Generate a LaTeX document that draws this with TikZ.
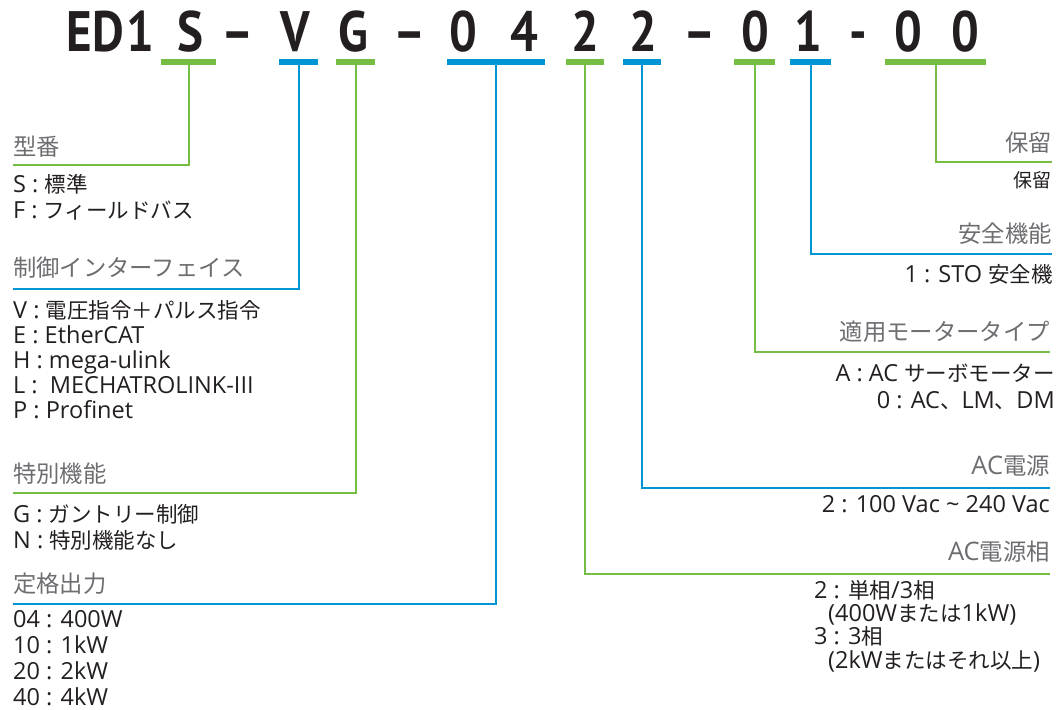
\documentclass[tikz,border=0pt]{standalone}
\usepackage{fontspec}
\setmainfont{Open Sans}
\newfontfamily\titlefont[FakeStretch=0.86]{PT Sans}
\newfontfamily\jpfont[Scale=0.915]{Noto Sans CJK JP}
\newcommand{\jp}[1]{{\jpfont #1}}
\definecolor{codegreen}{HTML}{76BE43}
\definecolor{codeblue}{HTML}{0096D6}
\definecolor{headgray}{HTML}{6D6E71}
\definecolor{inkblack}{HTML}{231F20}
\tikzset{
  codechar/.style={inner sep=0pt, anchor=base, text=inkblack, font=\fontsize{57}{57}\titlefont\bfseries},
  gbar/.style={fill=codegreen, minimum height=6pt, inner sep=0pt},
  bbar/.style={fill=codeblue, minimum height=6pt, inner sep=0pt},
  gline/.style={codegreen, line width=2pt},
  bline/.style={codeblue, line width=2pt},
  heading/.style={inner sep=0pt, text=headgray, font=\fontsize{25.5}{28}\selectfont},
  items/.style={inner sep=0pt, text=inkblack, align=left, font=\fontsize{23.5}{26}\selectfont},
}

\begin{document}
\begin{tikzpicture}[x=1pt, y=-1pt]
	\useasboundingbox (0,0) rectangle (1059,709);

	\node[codechar] (cE) at (79,52) {E};
	\node[codechar] (cD) at (108,52) {D};
	\node[codechar] (cOne) at (140,52) {1};
	\node[codechar] (cS) at (190,52) {S};
	\node[codechar] (dashA) at (238,52) {–};
	\node[codechar] (cV) at (295,52) {V};
	\node[codechar] (cG) at (353,52) {G};
	\node[codechar] (dashB) at (410,52) {–};
	\node[codechar] (cZeroA) at (463,52) {0};
	\node[codechar] (cFour) at (524,52) {4};
	\node[codechar] (cTwoA) at (585,52) {2};
	\node[codechar] (cTwoB) at (643,52) {2};
	\node[codechar] (dashC) at (700,52) {–};
	\node[codechar] (cZeroB) at (755,52) {0};
	\node[codechar] (cOneB) at (808,52) {1};
	\node[codechar] (dashD) at (858,52) {-};
	\node[codechar] (cZeroC) at (908,52) {0};
	\node[codechar] (cZeroD) at (965,52) {0};

	\node[gbar, minimum width=55pt] (barS) at (188.5,62) {};
	\node[bbar, minimum width=39pt] (barV) at (298.5,62) {};
	\node[gbar, minimum width=39pt] (barG) at (355.5,62) {};
	\node[bbar, minimum width=98pt] (barPow) at (496,62) {};
	\node[gbar, minimum width=38pt] (barPhase) at (585,62) {};
	\node[bbar, minimum width=38pt] (barAC) at (642,62) {};
	\node[gbar, minimum width=41pt] (barMotor) at (754.5,62) {};
	\node[bbar, minimum width=41pt] (barSafe) at (810.5,62) {};
	\node[gbar, minimum width=101pt] (barRes) at (935.5,62) {};

	% left side
	\node[heading, anchor=base west] (hdType) at (13,155) {\jp{型番}};
	\node[items, anchor=base west] (itType) at (13,218) {S : \jp{標準}\\F : \jp{フィールドバス}};
	\node[heading, anchor=base west] (hdIf) at (13,276) {\jp{制御インターフェイス}};
	\node[items, anchor=base west, font=\fontsize{23.5}{25}\selectfont] (itIf) at (13,418) {V : \jp{電圧指令＋パルス指令}\\E : EtherCAT\\H : mega-ulink\\L : \ MECHATROLINK-III\\P : Profinet};
	\node[heading, anchor=base west] (hdFunc) at (13,482) {\jp{特別機能}};
	\node[items, anchor=base west] (itFunc) at (13,548) {G : \jp{ガントリー制御}\\N : \jp{特別機能なし}};
	\node[heading, anchor=base west] (hdPow) at (13,592) {\jp{定格出力}};
	\node[items, anchor=base west] (itPow) at (13,705) {04 : 400W\\10 : 1kW\\20 : 2kW\\40 : 4kW};

	\coordinate (endType) at (13,165);
	\coordinate (endIf) at (13,289);
	\coordinate (endFunc) at (13,493);
	\coordinate (endPow) at (13,604);
	\draw[gline] (barS.south) |- (endType);
	\draw[bline] (barV.south) |- (endIf);
	\draw[gline] (barG.south) |- (endFunc);
	\draw[bline] (barPow.south) |- (endPow);

	% right side
	\node[heading, anchor=base east] (hdRes) at (1052,151) {\jp{保留}};
	\node[items, anchor=base east, font=\fontsize{20.8}{24}\selectfont] (itRes) at (1052,187) {\jp{保留}};
	\node[heading, anchor=base east] (hdSafe) at (1052,242) {\jp{安全機能}};
	\node[items, anchor=base east] (itSafe) at (1053,282) {1 : STO \jp{安全機}};
	\node[heading, anchor=base east] (hdMotor) at (1050,340) {\jp{適用モータータイプ}};
	\node[items, anchor=base east, align=right, font=\fontsize{23.5}{27}\selectfont] (itMotor) at (1055,408) {A : AC \jp{サーボモーター}\\0 : AC\jp{、}LM\jp{、}DM};
	\node[heading, anchor=base east] (hdAC) at (1050,474) {AC\jp{電源}};
	\node[items, anchor=base east] (itAC) at (1050,512) {2 : 100 Vac \textasciitilde{} 240 Vac};
	\node[heading, anchor=base east] (hdPhase) at (1050,560) {AC\jp{電源相}};
	\node[items, anchor=base west, font=\fontsize{23.5}{23.3}\selectfont] (itPhase) at (814,668) {2 : \jp{単相}/3\jp{相}\\\hspace*{14pt}(400W\jp{または}1kW)\\3 : 3\jp{相}\\\hspace*{14pt}(2kW\jp{またはそれ以上})};

	\coordinate (endRes) at (1052,162);
	\coordinate (endSafe) at (1052,254);
	\coordinate (endMotor) at (1050,352);
	\coordinate (endAC) at (1050,488);
	\coordinate (endPhase) at (1050,574);
	\draw[gline] (barRes.south) |- (endRes);
	\draw[bline] (barSafe.south) |- (endSafe);
	\draw[gline] (barMotor.south) |- (endMotor);
	\draw[bline] (barAC.south) |- (endAC);
	\draw[gline] (barPhase.south) |- (endPhase);
\end{tikzpicture}
\end{document}
